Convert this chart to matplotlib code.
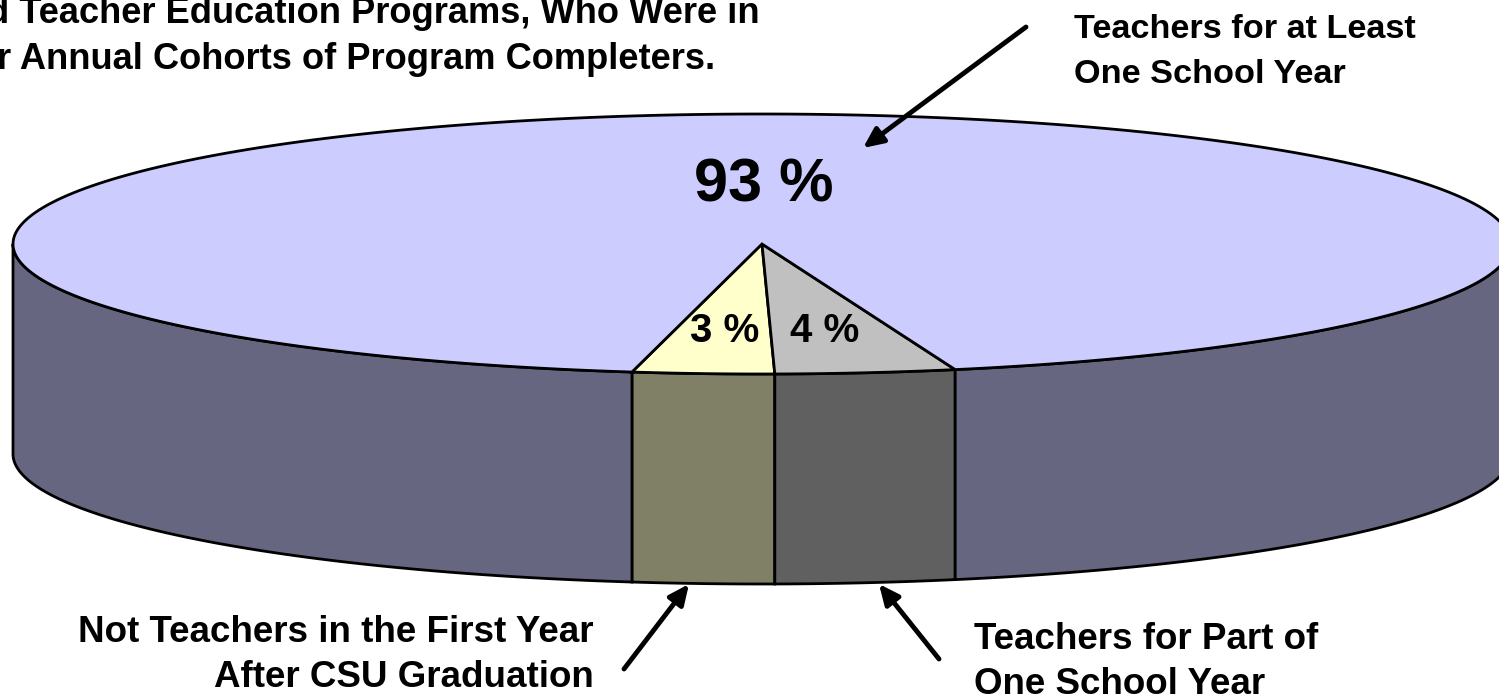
import matplotlib
matplotlib.use('Agg')
import matplotlib.pyplot as plt
import numpy as np

plt.rcParams['font.family'] = ['Liberation Sans', 'DejaVu Sans']

shares = [3.05, 3.88, 93.07]
pct_labels = ['3 %', '4 %', '93 %']
top_colors = ['#FFFFCC', '#C0C0C0', '#CCCCFF']
side_colors = ['#808066', '#606060', '#666680']

title_lines = ['d Teacher Education Programs, Who Were in',
               'r Annual Cohorts of Program Completers.']
label_top = ['Teachers for at Least', 'One School Year']
label_left = ['Not Teachers in the First Year', 'After CSU Graduation']
label_right = ['Teachers for Part of', 'One School Year']

#Pie geometry in pixels
cx, cy = 762, 244
a, b = 749, 130
depth = 210
start = -10.0
lw = 2

fig = plt.figure(figsize=(14.99, 6.98), dpi=100)
ax = fig.add_axes([0, 0, 1, 1])
ax.set_xlim(0, 1499)
ax.set_ylim(698, 0)
ax.axis('off')

def rim(t0, t1):
    t = np.radians(np.linspace(t0, t1, 300))
    return cx + a * np.sin(t), cy + b * np.cos(t)

edges = start + np.cumsum([0] + shares) * 3.6

#Walls first, only the front half of the rim shows
for i in range(len(shares)):
    for t0, t1 in [(edges[i], edges[i+1]), (edges[i] - 360, edges[i+1] - 360)]:
        t0, t1 = max(t0, -90), min(t1, 90)
        if t0 >= t1:
            continue
        x, y = rim(t0, t1)
        ax.fill(np.r_[x, x[::-1]], np.r_[y, y[::-1] + depth],
                facecolor=side_colors[i], edgecolor='black', lw=lw, zorder=1)

#Top face
for i in range(len(shares)):
    x, y = rim(edges[i], edges[i+1])
    ax.fill(np.r_[cx, x], np.r_[cy, y],
            facecolor=top_colors[i], edgecolor='black', lw=lw, zorder=2)

#Percent labels
ax.text(690, 342, pct_labels[0], fontsize=29, fontweight='bold', ha='left', va='baseline', zorder=3)
ax.text(790, 342, pct_labels[1], fontsize=29, fontweight='bold', ha='left', va='baseline', zorder=3)
ax.text(764, 201, pct_labels[2], fontsize=44, fontweight='bold', ha='center', va='baseline', zorder=3)

#Title, cut off by the left edge of the picture
ax.text(760, 23, title_lines[0], fontsize=26.1, fontweight='bold', ha='right', va='baseline')
ax.text(715, 69, title_lines[1], fontsize=26.1, fontweight='bold', ha='right', va='baseline')

#Callouts
ax.text(1074, 38, label_top[0], fontsize=24.7, fontweight='bold', va='baseline')
ax.text(1074, 83, label_top[1], fontsize=24.7, fontweight='bold', va='baseline')
ax.text(594, 642, label_left[0], fontsize=26.5, fontweight='bold', ha='right', va='baseline')
ax.text(594, 687, label_left[1], fontsize=26.5, fontweight='bold', ha='right', va='baseline')
ax.text(974, 649, label_right[0], fontsize=26.5, fontweight='bold', va='baseline')
ax.text(974, 694, label_right[1], fontsize=26.5, fontweight='bold', va='baseline')

arrow = dict(arrowstyle='-|>,head_length=1.2,head_width=0.55', color='black', lw=3.5,
             shrinkA=0, shrinkB=0)
ax.annotate('', xy=(863, 148), xytext=(1026, 27), arrowprops=arrow, zorder=4)
ax.annotate('', xy=(689, 584), xytext=(624, 669), arrowprops=arrow, zorder=4)
ax.annotate('', xy=(879, 584), xytext=(939, 659), arrowprops=arrow, zorder=4)

fig.savefig('out.png', dpi=100)
